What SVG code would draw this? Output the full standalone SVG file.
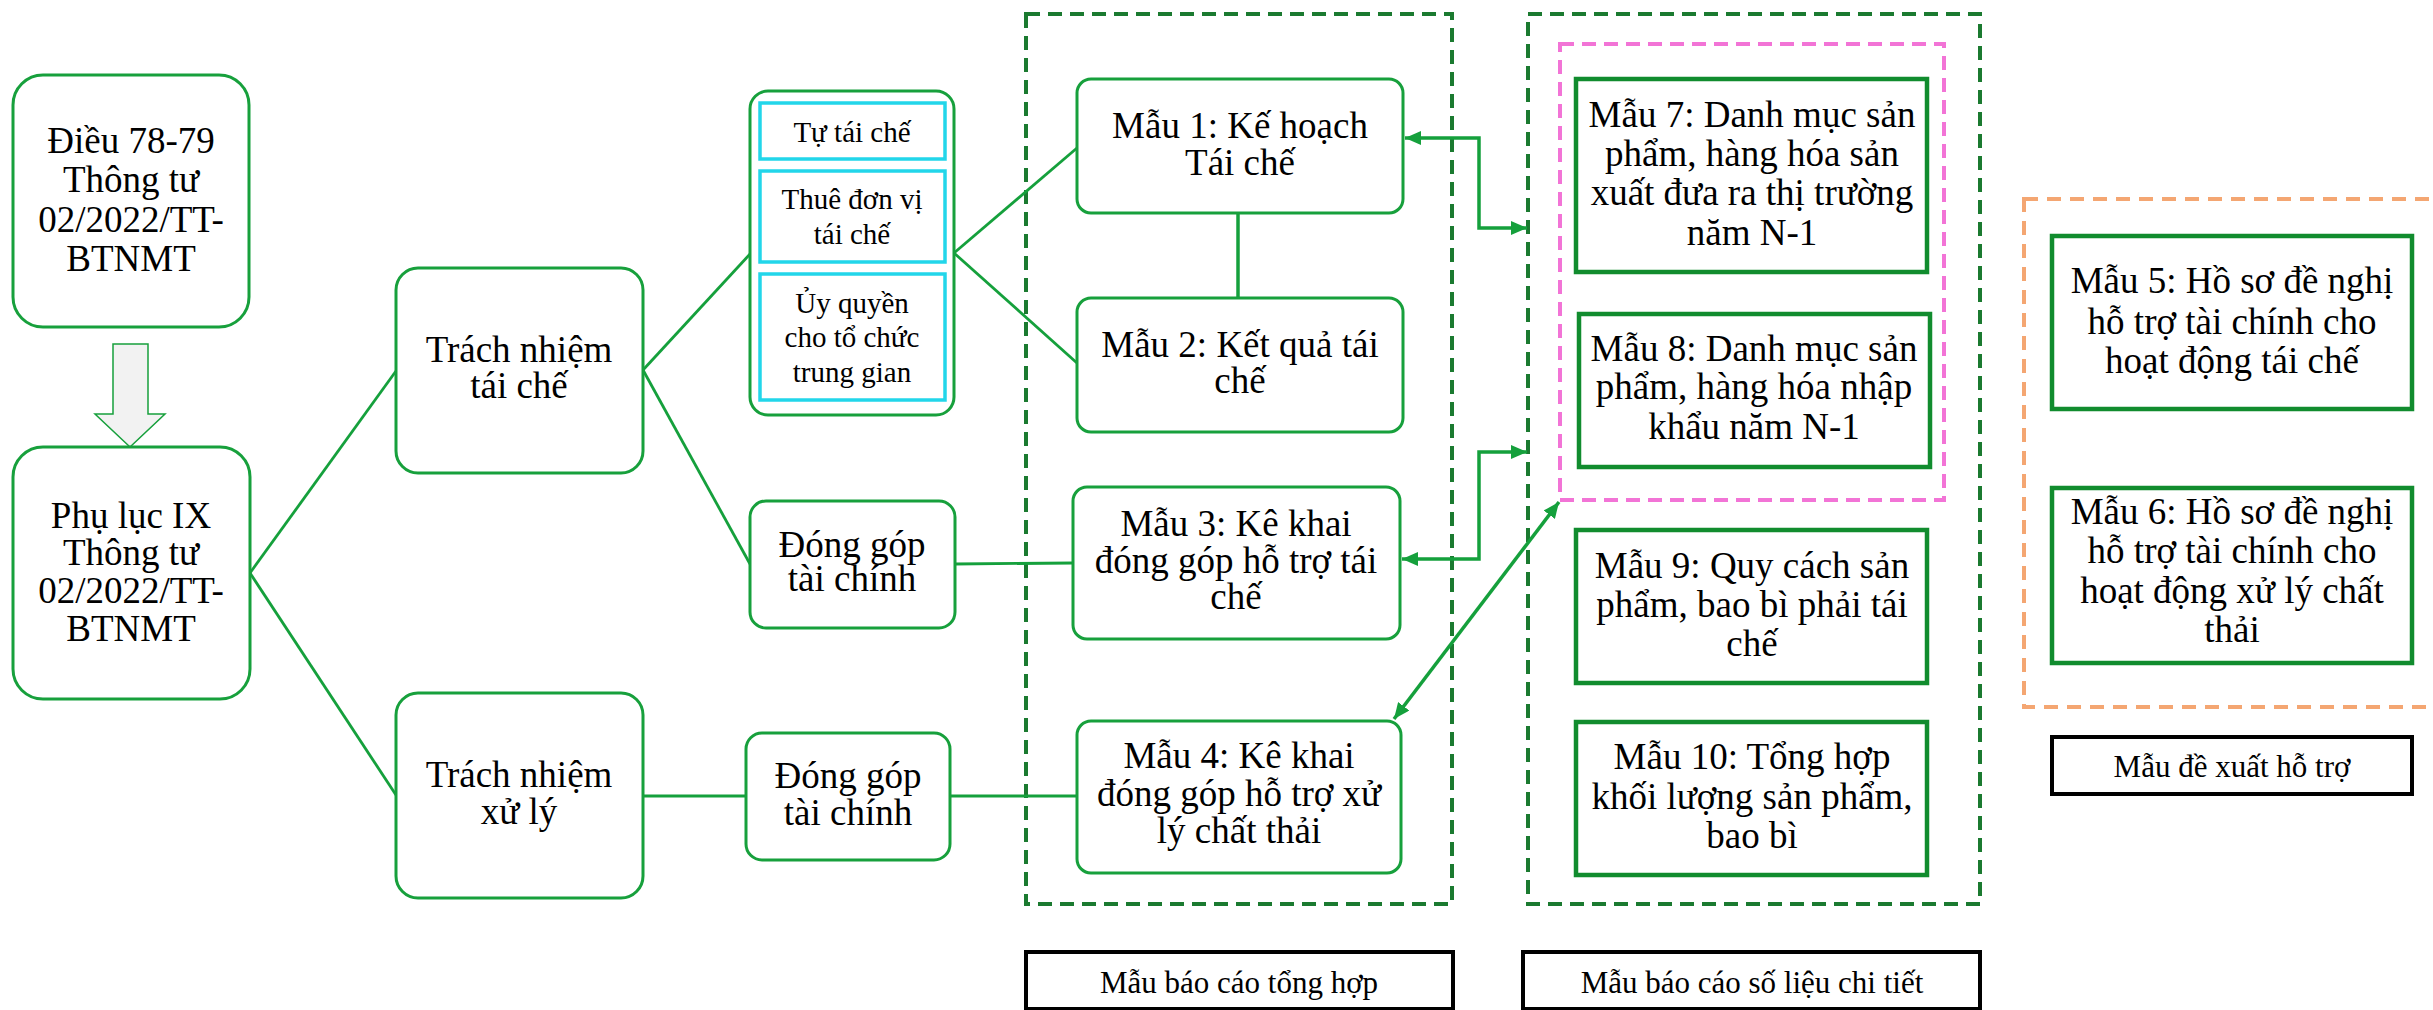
<svg xmlns="http://www.w3.org/2000/svg" width="2433" height="1010" viewBox="0 0 2433 1010">
<defs>
<style>
text{font-family:"Liberation Serif","Times New Roman",serif;fill:#000;text-anchor:middle}
.t{font-size:37px}
.s{font-size:29px}
.l{font-size:31px}
.rb{fill:#fff;stroke:#17a03c;stroke-width:3}
.sq{fill:#fff;stroke:#118c2e;stroke-width:4.5}
.cy{fill:#fff;stroke:#22d6ea;stroke-width:3.5}
.lab{fill:#fff;stroke:#000;stroke-width:4}
.dg{fill:none;stroke:#1b7a30;stroke-width:4;stroke-dasharray:14 8}
.dp{fill:none;stroke:#f274d6;stroke-width:4;stroke-dasharray:14 8}
.do{fill:none;stroke:#f4a672;stroke-width:4;stroke-dasharray:14 9}
.c{fill:none;stroke:#15a03c;stroke-width:2.8}
.a{fill:none;stroke:#15a03c;stroke-width:3.5}
</style>
<marker id="ah" viewBox="0 0 16 14" refX="16" refY="7" markerWidth="16" markerHeight="14" markerUnits="userSpaceOnUse" orient="auto-start-reverse">
<path d="M0,0 L16,7 L0,14 Z" fill="#15a03c"/>
</marker>
</defs>

<g id="groups">
<rect x="1026" y="14" width="426" height="890" class="dg"/>
<rect x="1528" y="14" width="452" height="890" class="dg"/>
<rect x="1560" y="44" width="384" height="456" class="dp"/>
<rect x="2024" y="199" width="430" height="508" class="do"/>
</g>

<g id="connectors">
<line x1="250" y1="573" x2="396" y2="371" class="c"/>
<line x1="250" y1="573" x2="396" y2="795" class="c"/>
<line x1="643" y1="370" x2="750" y2="254" class="c"/>
<line x1="643" y1="370" x2="750" y2="564" class="c"/>
<line x1="954" y1="253" x2="1077" y2="148" class="c"/>
<line x1="954" y1="253" x2="1077" y2="363" class="c"/>
<line x1="1238" y1="213" x2="1238" y2="298" class="a"/>
<line x1="955" y1="564" x2="1073" y2="563" class="c"/>
<line x1="643" y1="796" x2="746" y2="796" class="c"/>
<line x1="950" y1="796" x2="1077" y2="796" class="c"/>
<path d="M1405,138 H1479 V228 H1527" class="a" marker-start="url(#ah)" marker-end="url(#ah)"/>
<path d="M1402,559 H1479 V452 H1527" class="a" marker-start="url(#ah)" marker-end="url(#ah)"/>
<line x1="1394" y1="719" x2="1559" y2="502" class="a" marker-start="url(#ah)" marker-end="url(#ah)"/>
<polygon points="113,344 148,344 148,414 165,414 130,447 95,414 113,414" fill="#f2f2f2" stroke="#17a03c" stroke-width="1.5"/>
</g>

<g id="dieu78">
<rect x="13" y="75" width="236" height="252" rx="30" class="rb"/>
<text class="t" x="131" y="153">Điều 78-79</text>
<text class="t" x="131" y="192">Thông tư</text>
<text class="t" x="131" y="232">02/2022/TT-</text>
<text class="t" x="131" y="271">BTNMT</text>
</g>

<g id="phuluc">
<rect x="13" y="447" width="237" height="252" rx="30" class="rb"/>
<text class="t" x="131" y="528">Phụ lục IX</text>
<text class="t" x="131" y="565">Thông tư</text>
<text class="t" x="131" y="603">02/2022/TT-</text>
<text class="t" x="131" y="641">BTNMT</text>
</g>

<g id="trachnhiem-taiche">
<rect x="396" y="268" width="247" height="205" rx="22" class="rb"/>
<text class="t" x="519" y="362">Trách nhiệm</text>
<text class="t" x="519" y="398">tái chế</text>
</g>

<g id="trachnhiem-xuly">
<rect x="396" y="693" width="247" height="205" rx="22" class="rb"/>
<text class="t" x="519" y="787">Trách nhiệm</text>
<text class="t" x="519" y="824">xử lý</text>
</g>

<g id="hinhthuc">
<rect x="750" y="91" width="204" height="324" rx="18" class="rb"/>
<rect x="760" y="103" width="185" height="56" class="cy"/>
<text class="s" x="852" y="142">Tự tái chế</text>
<rect x="760" y="171" width="185" height="91" class="cy"/>
<text class="s" x="852" y="209">Thuê đơn vị</text>
<text class="s" x="852" y="244">tái chế</text>
<rect x="760" y="274" width="185" height="126" class="cy"/>
<text class="s" x="852" y="313">Ủy quyền</text>
<text class="s" x="852" y="347">cho tổ chức</text>
<text class="s" x="852" y="382">trung gian</text>
</g>

<g id="donggop1">
<rect x="750" y="501" width="205" height="127" rx="16" class="rb"/>
<text class="t" x="852" y="557">Đóng góp</text>
<text class="t" x="852" y="591">tài chính</text>
</g>

<g id="donggop2">
<rect x="746" y="733" width="204" height="127" rx="16" class="rb"/>
<text class="t" x="848" y="788">Đóng góp</text>
<text class="t" x="848" y="825">tài chính</text>
</g>

<g id="mau1">
<rect x="1077" y="79" width="326" height="134" rx="14" class="rb"/>
<text class="t" x="1240" y="138">Mẫu 1: Kế hoạch</text>
<text class="t" x="1240" y="175">Tái chế</text>
</g>

<g id="mau2">
<rect x="1077" y="298" width="326" height="134" rx="14" class="rb"/>
<text class="t" x="1240" y="357">Mẫu 2: Kết quả tái</text>
<text class="t" x="1240" y="393">chế</text>
</g>

<g id="mau3">
<rect x="1073" y="487" width="327" height="152" rx="14" class="rb"/>
<text class="t" x="1236" y="536">Mẫu 3: Kê khai</text>
<text class="t" x="1236" y="573">đóng góp hỗ trợ tái</text>
<text class="t" x="1236" y="609">chế</text>
</g>

<g id="mau4">
<rect x="1077" y="721" width="324" height="152" rx="14" class="rb"/>
<text class="t" x="1239" y="768">Mẫu 4: Kê khai</text>
<text class="t" x="1239" y="806">đóng góp hỗ trợ xử</text>
<text class="t" x="1239" y="843">lý chất thải</text>
</g>

<g id="mau7">
<rect x="1576" y="79" width="351" height="193" class="sq"/>
<text class="t" x="1752" y="127">Mẫu 7: Danh mục sản</text>
<text class="t" x="1752" y="166">phẩm, hàng hóa sản</text>
<text class="t" x="1752" y="205">xuất đưa ra thị trường</text>
<text class="t" x="1752" y="245">năm N-1</text>
</g>

<g id="mau8">
<rect x="1579" y="314" width="351" height="153" class="sq"/>
<text class="t" x="1754" y="361">Mẫu 8: Danh mục sản</text>
<text class="t" x="1754" y="399">phẩm, hàng hóa nhập</text>
<text class="t" x="1754" y="439">khẩu năm N-1</text>
</g>

<g id="mau9">
<rect x="1576" y="530" width="351" height="153" class="sq"/>
<text class="t" x="1752" y="578">Mẫu 9: Quy cách sản</text>
<text class="t" x="1752" y="617">phẩm, bao bì phải tái</text>
<text class="t" x="1752" y="656">chế</text>
</g>

<g id="mau10">
<rect x="1576" y="722" width="351" height="153" class="sq"/>
<text class="t" x="1752" y="769">Mẫu 10: Tổng hợp</text>
<text class="t" x="1752" y="809">khối lượng sản phẩm,</text>
<text class="t" x="1752" y="848">bao bì</text>
</g>

<g id="mau5">
<rect x="2052" y="236" width="360" height="173" class="sq"/>
<text class="t" x="2232" y="293">Mẫu 5: Hồ sơ đề nghị</text>
<text class="t" x="2232" y="334">hỗ trợ tài chính cho</text>
<text class="t" x="2232" y="373">hoạt động tái chế</text>
</g>

<g id="mau6">
<rect x="2052" y="488" width="360" height="175" class="sq"/>
<text class="t" x="2232" y="524">Mẫu 6: Hồ sơ đề nghị</text>
<text class="t" x="2232" y="563">hỗ trợ tài chính cho</text>
<text class="t" x="2232" y="603">hoạt động xử lý chất</text>
<text class="t" x="2232" y="642">thải</text>
</g>

<g id="label-dexuat">
<rect x="2052" y="737" width="360" height="57" class="lab"/>
<text class="l" x="2232" y="777">Mẫu đề xuất hỗ trợ</text>
</g>

<g id="label-tonghop">
<rect x="1026" y="952" width="427" height="57" class="lab"/>
<text class="l" x="1239" y="993">Mẫu báo cáo tổng hợp</text>
</g>

<g id="label-chitiet">
<rect x="1523" y="952" width="457" height="57" class="lab"/>
<text class="l" x="1752" y="993">Mẫu báo cáo số liệu chi tiết</text>
</g>
</svg>
